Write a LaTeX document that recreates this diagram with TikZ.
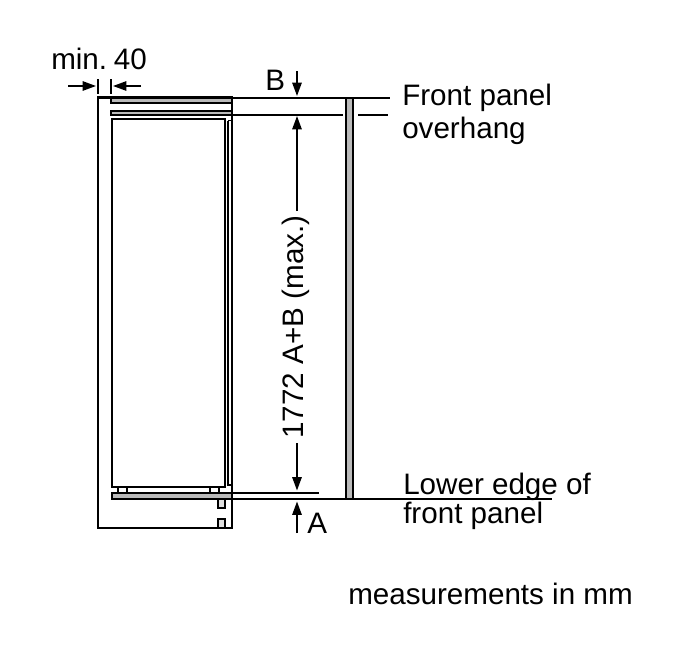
\documentclass[tikz,border=0pt]{standalone}
\usepackage{fontspec}
\setmainfont{Liberation Sans}
\usetikzlibrary{arrows.meta}
\tikzset{
  x=0.75pt,y=-0.75pt,
  thick line/.style={draw=black,line width=1.7pt},
  thin line/.style={draw=black,line width=1.25pt},
  graybar/.style={draw=black,line width=1.7pt,fill=black!27},
  arr/.style={draw=black,line width=1.25pt,-{Triangle[length=10pt,width=7pt]}},
  lbl/.style={inner sep=0pt,font=\fontsize{22.2}{26}\selectfont,anchor=base west,text=black},
}
\begin{document}
\begin{tikzpicture}
\useasboundingbox (0,0) rectangle (700,653);
\fill[white] (0,0) rectangle (700,653);
% cabinet
\draw[thick line] (98.3,97.5) rectangle (232.3,528.3);
\fill[white] (99.4,98.7) rectangle (110,110);
% top bars
\draw[graybar] (111,97.5) rectangle (232.3,102.7);
\draw[graybar] (111,110.7) rectangle (232.3,115.3);
% appliance
\draw[thick line] (225,118.7) -- (112.3,118.7) -- (112.3,486.7) -- (225,486.7) -- cycle;
\draw[thin line] (228,120.5) -- (228,485) -- (232,485);
\draw[thin line] (228,120.5) -- (232,120.5);
% base
\draw[thin line] (117.7,486.7) rectangle (127.3,492.7);
\draw[thin line] (210,486.7) rectangle (219.3,492.7);
\draw[graybar] (111.7,492.7) rectangle (232.3,499.3);
\draw[line width=1.4pt,fill=black!12] (218.3,499.3) rectangle (225,507.7);
\draw[line width=1.4pt,fill=black!12] (218.3,519.3) rectangle (225,528.3);
% panel
\draw[graybar] (345.7,97.7) rectangle (353.3,499);
% extension lines
\draw[thin line] (98.3,79) -- (98.3,94);
\draw[thin line] (111,79) -- (111,94);
\draw[thin line] (232.3,97.7) -- (390,97.7);
\draw[thin line] (232.3,114.7) -- (342.7,114.7);
\draw[thin line] (358,114.7) -- (388,114.7);
\draw[thin line] (232.3,492.7) -- (319,492.7);
\draw[thin line] (232.3,499) -- (551.7,499);
% labels
\node[lbl] (minf) at (51,69) {min.\hspace{5pt}40};
\node[lbl] (bl) at (265,90.5) {B};
\node[lbl] (al) at (307,533) {A};
\node[lbl] (f1) at (402,105) {Front panel};
\node[lbl] (f2) at (402,138) {overhang};
\node[lbl] (l1) at (403,494.5) {Lower edge of};
\node[lbl] (l2) at (403,523.5) {front panel};
\node[lbl] (mm) at (348,604.5) {measurements in mm};
\node[inner sep=0pt,font=\fontsize{22.2}{26}\selectfont,text=black,rotate=90] (dim) at (296,327) {1772 A+B (max.)};
% arrows
\coordinate (a1) at (68,86); \coordinate (a1e) at (96,86);
\coordinate (a2) at (141,86); \coordinate (a2e) at (113,86);
\draw[arr] (a1) -- (a1e);
\draw[arr] (a2) -- (a2e);
\draw[arr] (297,71) -- (297,96);
\draw[arr] (297,211) -- (297,116);
\draw[arr] (297,443) -- (297,490.5);
\draw[arr] (297,533) -- (297,501.5);
\end{tikzpicture}
\end{document}
